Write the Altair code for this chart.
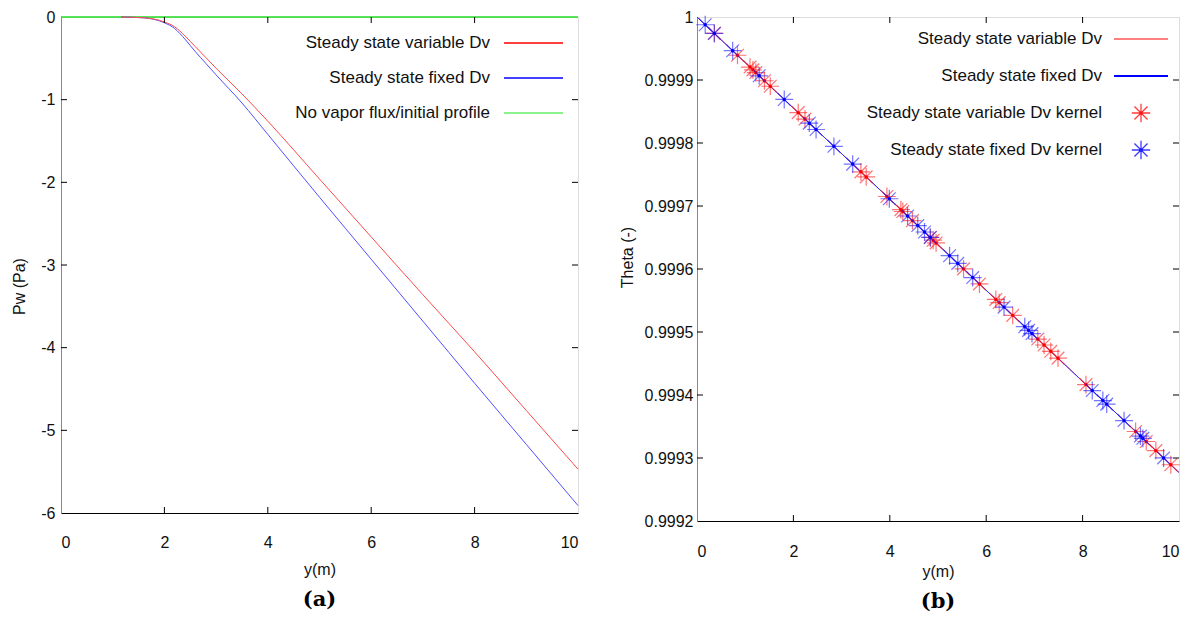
import altair as alt
import pandas as pd

# ---------------- Panel (a) data ----------------
a_x = [1.16, 1.6, 2.0, 2.2, 2.3, 2.4, 2.6, 2.8, 3.0, 3.5, 4.0, 5.0, 6.0, 7.0, 8.0, 9.0, 10.0]
a_red = [0.0, -0.01, -0.06, -0.12, -0.17, -0.23, -0.36, -0.49, -0.62, -0.93, -1.26, -1.96, -2.66, -3.36, -4.05, -4.76, -5.47]
a_blue = [0.0, -0.01, -0.07, -0.14, -0.20, -0.27, -0.42, -0.56, -0.70, -1.04, -1.42, -2.18, -2.93, -3.68, -4.43, -5.17, -5.91]
a_green_x = [0.0, 10.0]
a_green = [0.0, 0.0]
a_xticks = [0, 2, 4, 6, 8, 10]
a_yticks = [0, -1, -2, -3, -4, -5, -6]
a_legend = ["Steady state variable Dv", "Steady state fixed Dv", "No vapor flux/initial profile"]

# ---------------- Panel (b) data ----------------
b_line_x = [0.0, 5.0, 10.0]
b_line_red = [1.0, 0.9996385, 0.999277]
b_line_blue = [1.0, 0.9996385, 0.999277]
b_red_x = [0.36, 0.84, 1.10, 1.16, 1.22, 1.40, 1.52, 2.10, 2.24, 3.40, 3.51, 3.94, 4.23, 4.27,
           4.47, 4.84, 4.90, 4.96, 5.53, 5.86, 6.20, 6.27, 6.55, 7.07, 7.20, 7.34, 7.49, 8.07,
           9.10, 9.32, 9.52, 9.83]
b_red_t = [0.999974, 0.9999393, 0.9999205, 0.9999161, 0.9999118, 0.9998988, 0.9998901, 0.9998482,
           0.9998380, 0.9997542, 0.9997462, 0.9997151, 0.9996942, 0.9996913, 0.9996768, 0.9996501,
           0.9996457, 0.9996414, 0.9996002, 0.9995763, 0.9995517, 0.9995467, 0.9995264, 0.9994888,
           0.9994794, 0.9994693, 0.9994585, 0.9994165, 0.9993421, 0.9993262, 0.9993117, 0.9992893]
b_blue_x = [0.17, 0.36, 0.74, 1.29, 1.81, 2.33, 2.47, 2.84, 3.23, 3.99, 4.37, 4.58, 4.72, 4.84,
            5.24, 5.41, 5.72, 6.37, 6.80, 6.88, 6.95, 8.20, 8.42, 8.50, 8.86, 9.20, 9.25, 9.68]
b_blue_t = [0.9999877, 0.999974, 0.9999465, 0.9999067, 0.9998691, 0.9998315, 0.9998214, 0.9997947,
            0.9997665, 0.9997115, 0.9996841, 0.9996689, 0.9996587, 0.9996501, 0.9996211, 0.9996089,
            0.9995864, 0.9995395, 0.9995084, 0.9995026, 0.9994975, 0.9994071, 0.9993912, 0.9993855,
            0.9993594, 0.9993348, 0.9993312, 0.9993001]
b_xticks = [0, 2, 4, 6, 8, 10]
b_yticks = [0.9992, 0.9993, 0.9994, 0.9995, 0.9996, 0.9997, 0.9998, 0.9999, 1.0]
b_legend = ["Steady state variable Dv", "Steady state fixed Dv",
            "Steady state variable Dv kernel", "Steady state fixed Dv kernel"]

# ---------------- style ----------------
FONT = "Liberation Sans, Arial, sans-serif"
LBL = 16
LEG = 17
TICK = 6
GREEN = "#22dd22"
ASTER = "M-1,0L1,0M0,-1L0,1M-0.71,-0.71L0.71,0.71M-0.71,0.71L0.71,-0.71"

WA, HA = 517, 496
WB, HB = 482, 504


def df(x, y):
    return pd.DataFrame({"x": x, "y": y})


def tick_layers(xt, yt, xs, ys, W, H):
    xd = pd.DataFrame({"x": xt[1:-1]})
    yd = pd.DataFrame({"y": yt[1:-1]})
    bx = alt.X("x:Q", scale=xs)
    by = alt.Y("y:Q", scale=ys)
    return [
        alt.Chart(xd).mark_rule(color="black", strokeWidth=1).encode(x=bx, y=alt.value(H - TICK), y2=alt.value(H)),
        alt.Chart(xd).mark_rule(color="black", strokeWidth=1).encode(x=bx, y=alt.value(0), y2=alt.value(TICK)),
        alt.Chart(yd).mark_rule(color="black", strokeWidth=1).encode(y=by, x=alt.value(0), x2=alt.value(TICK)),
        alt.Chart(yd).mark_rule(color="black", strokeWidth=1).encode(y=by, x=alt.value(W - TICK), x2=alt.value(W)),
    ]


def legend_text(label, x, y):
    return alt.Chart(pd.DataFrame({"t": [label]})).mark_text(
        align="right", baseline="middle", font=FONT, fontSize=LEG, color="#111"
    ).encode(text="t:N", x=alt.value(x), y=alt.value(y))


def legend_line(label, x1, x2, y, color, w):
    return alt.Chart(pd.DataFrame({"t": [label]})).mark_rule(color=color, strokeWidth=w).encode(
        x=alt.value(x1), x2=alt.value(x2), y=alt.value(y))


def legend_marker(label, x, y, color):
    d = pd.DataFrame({"t": [label]})
    return [
        alt.Chart(d).mark_point(shape=ASTER, filled=False, size=340, strokeWidth=1.3, color=color, opacity=0.85).encode(
            x=alt.value(x), y=alt.value(y)),
        alt.Chart(d).mark_circle(size=14, color=color, opacity=1).encode(x=alt.value(x), y=alt.value(y)),
    ]


def axis_common(**kw):
    return alt.Axis(ticks=False, grid=False, titleFont=FONT, titleFontSize=LBL, titleFontWeight="normal",
                    labelFont=FONT, labelFontSize=LBL, labelColor="#111", titleColor="#111", **kw)


# ---------------- Panel (a) ----------------
xsA = alt.Scale(domain=[0, 10], nice=False, zero=False)
ysA = alt.Scale(domain=[-6, 0], nice=False, zero=False)

axA_x = axis_common(values=a_xticks, title="y(m)", domainColor="black", labelPadding=21, titleY=48)
axA_y = axis_common(values=a_yticks, title="Pw (Pa)", domainColor="#888888", labelPadding=6,
                    titleX=-42, titleY=269, titleBaseline="middle", titleAlign="center", titleAngle=-90,
                    labelExpr="datum.value < 0 ? '-' + format(-datum.value, 'd') : format(datum.value, 'd')")

green_a = alt.Chart(df(a_green_x, a_green)).mark_line(color=GREEN, strokeWidth=1.6).encode(
    x=alt.X("x:Q", scale=xsA, axis=axA_x), y=alt.Y("y:Q", scale=ysA, axis=axA_y))
blue_a = alt.Chart(df(a_x, a_blue)).mark_line(color="#5050ff", strokeWidth=1, interpolate="monotone").encode(
    x=alt.X("x:Q", scale=xsA), y=alt.Y("y:Q", scale=ysA))
red_a = alt.Chart(df(a_x, a_red)).mark_line(color="#ff4a4a", strokeWidth=1, interpolate="monotone").encode(
    x=alt.X("x:Q", scale=xsA), y=alt.Y("y:Q", scale=ysA))

legA = []
colsA = ["#ff0000", "#0000ff", "#66ee66"]
for i, (lab, col) in enumerate(zip(a_legend, colsA)):
    yy = 26 + 35 * i
    legA.append(legend_text(lab, 429, yy))
    legA.append(legend_line(lab, 443, 502, yy, col, 1.5))

panelA = alt.layer(green_a, blue_a, red_a, *tick_layers(a_xticks, a_yticks, xsA, ysA, WA, HA), *legA).properties(
    width=WA, height=HA,
    title=alt.TitleParams("(a)", orient="bottom", font="DejaVu Serif", fontWeight="bold", fontSize=21,
                          offset=12, color="black"))

# ---------------- Panel (b) ----------------
xsB = alt.Scale(domain=[0, 10], nice=False, zero=False)
ysB = alt.Scale(domain=[0.9992, 1.0], nice=False, zero=False)

axB_x = axis_common(values=b_xticks, title="y(m)", domainColor="black", labelPadding=22, titleY=42)
axB_y = axis_common(values=b_yticks, title="Theta (-)", domainColor="#888888", labelPadding=4,
                    titleX=-70, titleY=240, titleBaseline="middle", titleAlign="center", titleAngle=-90,
                    labelExpr="format(datum.value, '.4~f')")

red_b = alt.Chart(df(b_line_x, b_line_red)).mark_line(color="#ff3030", strokeWidth=1).encode(
    x=alt.X("x:Q", scale=xsB, axis=axB_x), y=alt.Y("y:Q", scale=ysB, axis=axB_y))
blue_b = alt.Chart(df(b_line_x, b_line_blue)).mark_line(color="#3030ff", strokeWidth=1).encode(
    x=alt.X("x:Q", scale=xsB), y=alt.Y("y:Q", scale=ysB))

red_pts = df(b_red_x, b_red_t)
blue_pts = df(b_blue_x, b_blue_t)
red_star = alt.Chart(red_pts).mark_point(shape=ASTER, filled=False, size=320, strokeWidth=1.2,
                                         color="#ff1a1a", opacity=0.6).encode(
    x=alt.X("x:Q", scale=xsB), y=alt.Y("y:Q", scale=ysB))
red_dot = alt.Chart(red_pts).mark_circle(size=12, color="#ff0000", opacity=1).encode(
    x=alt.X("x:Q", scale=xsB), y=alt.Y("y:Q", scale=ysB))
blue_star = alt.Chart(blue_pts).mark_point(shape=ASTER, filled=False, size=320, strokeWidth=1.2,
                                           color="#1a1aff", opacity=0.6).encode(
    x=alt.X("x:Q", scale=xsB), y=alt.Y("y:Q", scale=ysB))
blue_dot = alt.Chart(blue_pts).mark_circle(size=12, color="#0000ff", opacity=1).encode(
    x=alt.X("x:Q", scale=xsB), y=alt.Y("y:Q", scale=ysB))

legB = []
for i, lab in enumerate(b_legend):
    yy = 22 + 37 * i
    legB.append(legend_text(lab, 405, yy))
legB.append(legend_line(b_legend[0], 417, 471, 22, "#ff0000", 1))
legB.append(legend_line(b_legend[1], 417, 471, 59, "#0000ff", 2))
legB += legend_marker(b_legend[2], 444, 96, "#ff1a1a")
legB += legend_marker(b_legend[3], 444, 133, "#1a1aff")

panelB = alt.layer(red_b, blue_b, red_star, red_dot, blue_star, blue_dot,
                   *tick_layers(b_xticks, b_yticks, xsB, ysB, WB, HB), *legB).properties(
    width=WB, height=HB,
    title=alt.TitleParams("(b)", orient="bottom", font="DejaVu Serif", fontWeight="bold", fontSize=21,
                          offset=12, color="black"))

chart = alt.hconcat(panelA, panelB, spacing=119, bounds="flush").properties(
    padding={"left": 2, "top": 0, "right": 5, "bottom": 0}
).configure_view(stroke="black", strokeWidth=1).configure(background="white")

chart.save("out.html", embed_options={"renderer": "svg", "actions": False})
